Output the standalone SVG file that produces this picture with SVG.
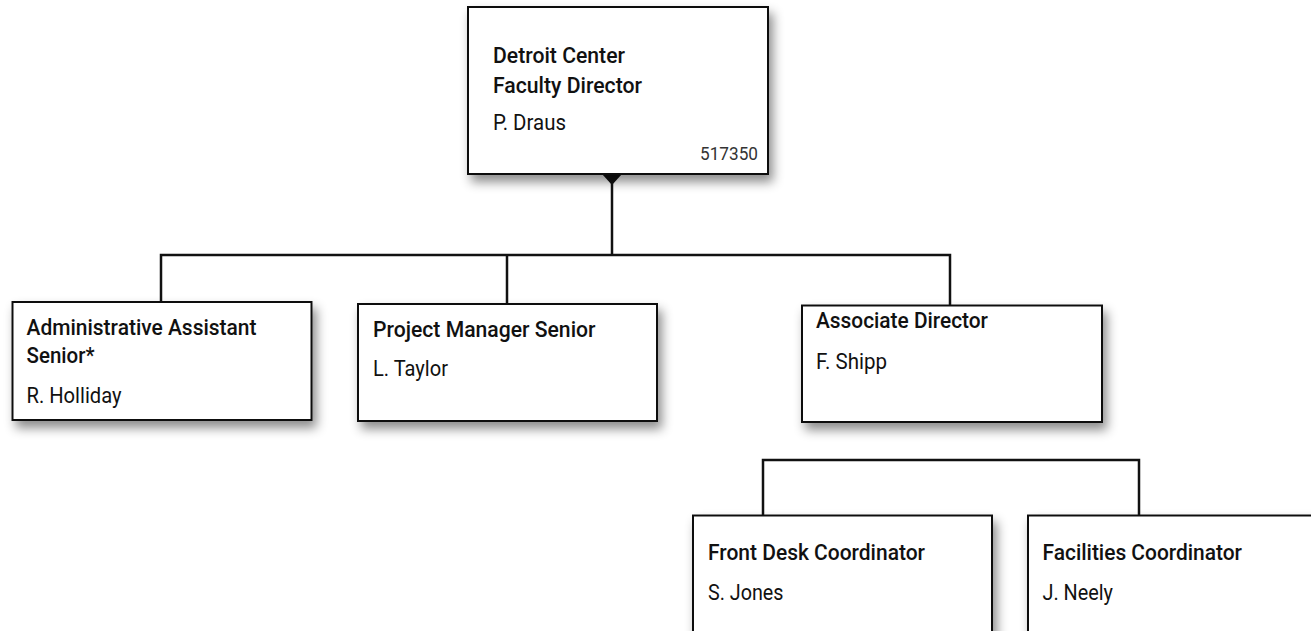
<svg xmlns="http://www.w3.org/2000/svg" width="1311" height="631" viewBox="0 0 1311 631">
<defs>
<filter id="sh" x="-10%" y="-10%" width="130%" height="140%">
<feDropShadow dx="4" dy="7" stdDeviation="5.5" flood-color="#000" flood-opacity="0.45"/>
</filter>
<marker id="tri" viewBox="0 0 20 11" refX="10" refY="0" markerWidth="20" markerHeight="11" markerUnits="userSpaceOnUse" orient="0">
<path d="M0,0 L20,0 L10,11 Z" fill="#111"/>
</marker>
</defs>
<style>
.box{fill:#fff;stroke:#111;stroke-width:2;filter:url(#sh)}
.t{font-family:Roboto,"Liberation Sans",Arial,sans-serif;font-weight:500;font-size:21.5px;fill:#111}
.n{font-family:Roboto,"Liberation Sans",Arial,sans-serif;font-weight:400;font-size:21.5px;fill:#111}
.c{font-family:Roboto,"Liberation Sans",Arial,sans-serif;font-weight:400;font-size:18px;fill:#333}
.ln{fill:none;stroke:#111;stroke-width:2.5}
</style>
<rect width="1311" height="631" fill="#fff"/>
<g id="connectors">
<path class="ln" d="M612,174 V255" marker-start="url(#tri)"/>
<path class="ln" d="M161,302 V255 H950 V305.5 M507,255 V304"/>
<path class="ln" d="M763,515.5 V460 H1139 V515.5"/>
</g>
<g id="n-director">
<rect class="box" x="468" y="7" width="300" height="167"/>
<text class="t" x="493" y="63" textLength="132" lengthAdjust="spacingAndGlyphs">Detroit Center</text>
<text class="t" x="493" y="93" textLength="149" lengthAdjust="spacingAndGlyphs">Faculty Director</text>
<text class="n" x="493" y="130" textLength="73" lengthAdjust="spacingAndGlyphs">P. Draus</text>
<text class="c" x="700" y="160" textLength="58" lengthAdjust="spacingAndGlyphs">517350</text>
</g>
<g id="n-admin">
<rect class="box" x="12.5" y="302" width="299" height="118"/>
<text class="t" x="26.5" y="335" textLength="230" lengthAdjust="spacingAndGlyphs">Administrative Assistant</text>
<text class="t" x="26.5" y="363" textLength="68" lengthAdjust="spacingAndGlyphs">Senior*</text>
<text class="n" x="26.5" y="403" textLength="95" lengthAdjust="spacingAndGlyphs">R. Holliday</text>
</g>
<g id="n-pm">
<rect class="box" x="358" y="304" width="299" height="117"/>
<text class="t" x="373" y="336.5" textLength="222.5" lengthAdjust="spacingAndGlyphs">Project Manager Senior</text>
<text class="n" x="373" y="376" textLength="75" lengthAdjust="spacingAndGlyphs">L. Taylor</text>
</g>
<g id="n-assoc">
<rect class="box" x="802" y="305.5" width="300" height="116.5"/>
<text class="t" x="816" y="328" textLength="172" lengthAdjust="spacingAndGlyphs">Associate Director</text>
<text class="n" x="816" y="369" textLength="71" lengthAdjust="spacingAndGlyphs">F. Shipp</text>
</g>
<g id="n-frontdesk">
<rect class="box" x="693" y="515.5" width="299" height="140"/>
<text class="t" x="708" y="560" textLength="217" lengthAdjust="spacingAndGlyphs">Front Desk Coordinator</text>
<text class="n" x="708" y="600" textLength="75.5" lengthAdjust="spacingAndGlyphs">S. Jones</text>
</g>
<g id="n-facilities">
<rect class="box" x="1028" y="515.5" width="300" height="140"/>
<text class="t" x="1042.5" y="560" textLength="199.5" lengthAdjust="spacingAndGlyphs">Facilities Coordinator</text>
<text class="n" x="1042.5" y="600" textLength="70.5" lengthAdjust="spacingAndGlyphs">J. Neely</text>
</g>
</svg>
